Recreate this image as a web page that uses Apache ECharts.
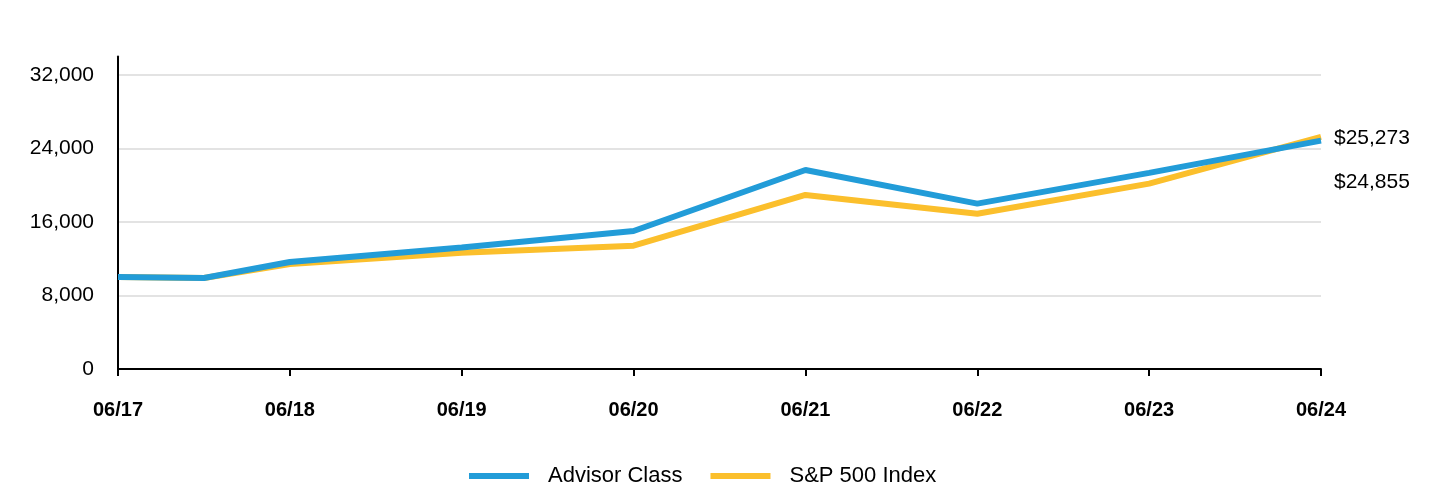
<!DOCTYPE html>
<html>
<head>
<meta charset="utf-8">
<script src="https://cdn.jsdelivr.net/npm/echarts@6/dist/echarts.min.js"></script>
<style>
html,body{margin:0;padding:0;background:#fff;}
#chart{width:1440px;height:492px;}
</style>
</head>
<body>
<div id="chart"></div>
<script>
// Semi-annual period categories (06/17 .. 06/24)
const categories = ['06/17','12/17','06/18','12/18','06/19','12/19','06/20','12/20','06/21','12/21','06/22','12/22','06/23','12/23','06/24'];
const advisorClass = [10000, 9900, 11650, null, 13220, null, 15020, null, 21660, null, 18000, null, 21350, null, 24855];
const sp500Index   = [10000, 9900, 11430, null, 12660, null, 13420, null, 18940, null, 16900, null, 20180, null, 25273];
const seriesNames = ['Advisor Class', 'S&P 500 Index'];
const yMin = 0, yMax = 34000, yStep = 8000;

const FONT = 'Liberation Sans, Arial, sans-serif';
const fmt = v => Number(v).toLocaleString('en-US');

const chart = echarts.init(document.getElementById('chart'), null, {renderer: 'canvas'});
chart.setOption({
  animation: false,
  backgroundColor: '#fff',
  grid: {left: 118, right: 119, top: 56.6, bottom: 123, containLabel: false},
  legend: {
    data: seriesNames,
    top: 465,
    left: 469,
    padding: 0,
    icon: 'rect',
    itemWidth: 60,
    itemHeight: 6,
    itemGap: 28,
    textStyle: {fontFamily: FONT, fontSize: 22, color: '#000', padding: [0, 0, 0, 14]}
  },
  xAxis: {
    type: 'category',
    data: categories,
    boundaryGap: false,
    axisLine: {lineStyle: {color: '#000', width: 2}},
    axisTick: {show: true, interval: 1, length: 7, lineStyle: {color: '#000', width: 2}},
    axisLabel: {interval: 1, margin: 31, fontFamily: FONT, fontSize: 20, fontWeight: 'bold', color: '#000'},
    splitLine: {show: false}
  },
  yAxis: {
    type: 'value',
    min: yMin, max: yMax, interval: yStep,
    axisLine: {show: true, lineStyle: {color: '#000', width: 2}},
    axisTick: {show: false},
    axisLabel: {
      margin: 24, fontFamily: FONT, fontSize: 21, color: '#000',
      formatter: v => (v > 32000 ? '' : fmt(v))
    },
    splitLine: {lineStyle: {color: ['#e3e3e3','#e3e3e3','#e3e3e3','#e3e3e3','#e3e3e3','rgba(0,0,0,0)'], width: 2}}
  },
  series: [
    {
      name: seriesNames[0], type: 'line', data: advisorClass, connectNulls: true,
      showSymbol: false, symbol: 'none', z: 3,
      lineStyle: {color: '#229cd8', width: 6}, itemStyle: {color: '#229cd8'},
      endLabel: {show: true, distance: 13, offset: [0, 42], fontFamily: FONT, fontSize: 21, color: '#000',
        formatter: p => '$' + fmt(p.value)}
    },
    {
      name: seriesNames[1], type: 'line', data: sp500Index, connectNulls: true,
      showSymbol: false, symbol: 'none', z: 2,
      lineStyle: {color: '#fbbf2c', width: 6}, itemStyle: {color: '#fbbf2c'},
      endLabel: {show: true, distance: 13, offset: [0, 1], fontFamily: FONT, fontSize: 21, color: '#000',
        formatter: p => '$' + fmt(p.value)}
    }
  ]
});
</script>
</body>
</html>
